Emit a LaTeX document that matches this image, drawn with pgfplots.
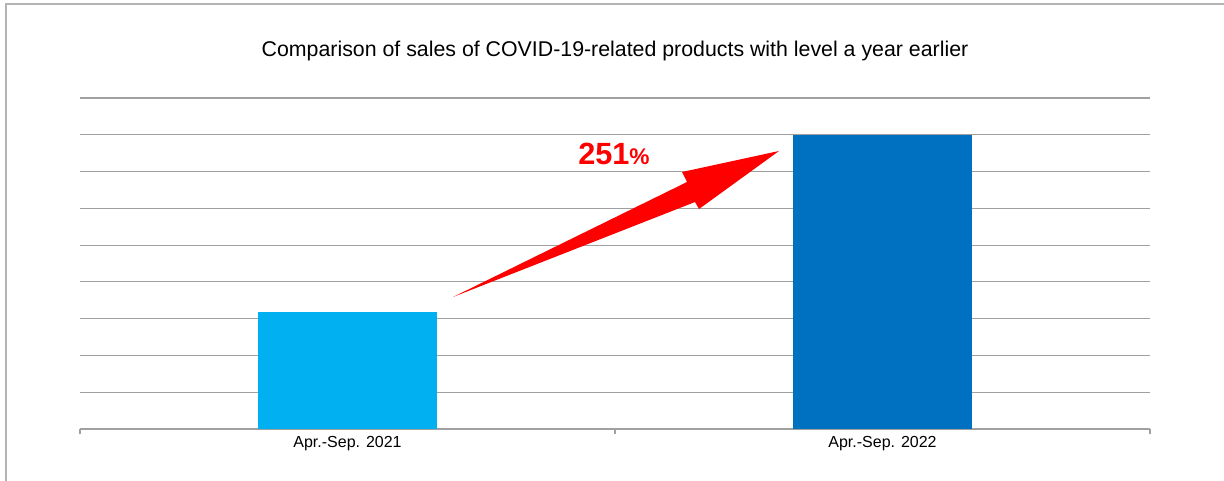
\documentclass[border=0pt]{standalone}
\usepackage{pgfplots}
\pgfplotsset{compat=1.18}
\usepackage{fontspec}
\setmainfont{Liberation Sans}
\definecolor{barA}{RGB}{0,176,240}
\definecolor{barB}{RGB}{0,112,192}
\definecolor{gridc}{RGB}{160,160,160}
\definecolor{framec}{RGB}{180,180,180}
\begin{document}
\begin{tikzpicture}
\begin{scope}[x=0.75pt,y=-0.75pt]
\useasboundingbox (0,0) rectangle (1224,481);
\fill[white] (0,0) rectangle (1224,481);
\draw[framec,line width=0.9pt] (6,481) -- (6,4) -- (1224,4);
\node[font=\fontsize{16}{19}\selectfont,anchor=base] at (615,57) {Comparison of sales of COVID-19-related products with level a year earlier};
\end{scope}
\begin{axis}[
  at={(60pt,-321.75pt)}, anchor=south west,
  scale only axis, width=802.5pt, height=248.25pt,
  xmin=0, xmax=2, ymin=0, ymax=9,
  axis x line*=bottom, axis y line*=left,
  x axis line style={gridc, line width=0.8pt, -},
  y axis line style={draw=none},
  ytick={1,2,...,9},
  yticklabels={},
  ytick style={draw=none},
  ymajorgrids,
  grid style={gridc, line width=0.8pt},
  xtick={0.5,1.5},
  xticklabels={Apr.-Sep. 2021, Apr.-Sep. 2022},
  x tick label style={font=\fontsize{12}{14}\selectfont, yshift=-2pt},
  major tick length=0pt,
  extra x ticks={0,1,2},
  extra x tick labels={},
  extra x tick style={grid=none, tick style={draw=gridc, line width=0.8pt}, tick align=outside, major tick length=4pt},
  ybar, bar width=0.3346, bar shift=0pt,
  clip=false,
]
\addplot[fill=barA, draw=none] coordinates {(0.5,3.187)};
\addplot[fill=barB, draw=none] coordinates {(1.5,8)};
\end{axis}
\begin{scope}[x=0.75pt,y=-0.75pt]
\fill[red] (453,297) -- (687,182) -- (682,172) -- (779,151) -- (699,209) -- (695,202) -- cycle;
\node[anchor=base west, inner sep=0pt, text=red, font=\bfseries] at (578,165)
  {\fontsize{23}{26}\selectfont 251\fontsize{17}{20}\selectfont\%};
\end{scope}
\end{tikzpicture}
\end{document}
